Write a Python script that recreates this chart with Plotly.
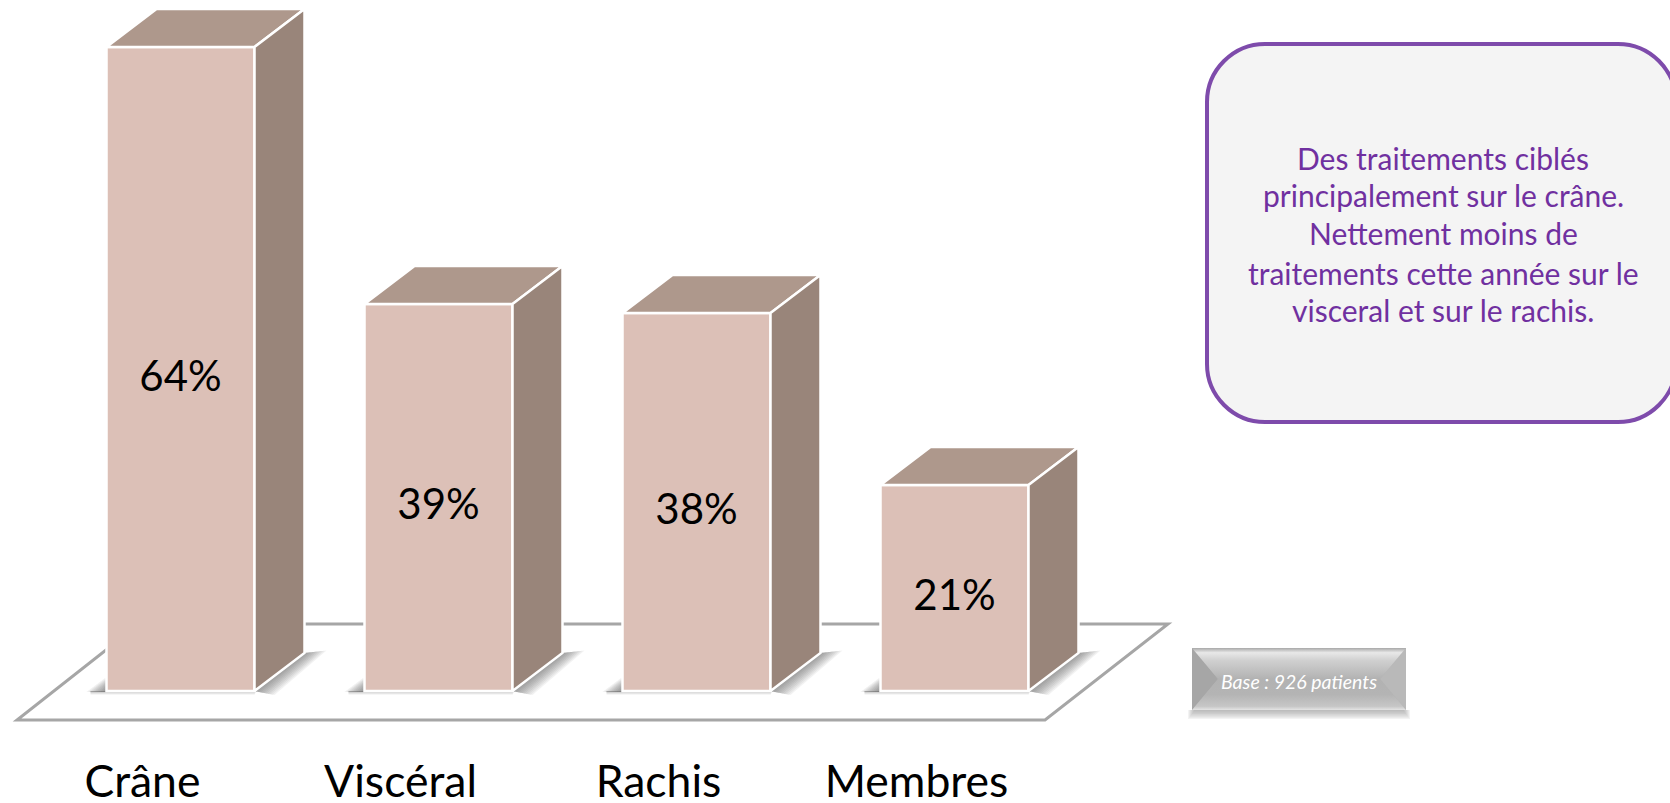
import plotly.graph_objects as go

# ---- data ----
categories = ["Crâne", "Viscéral", "Rachis", "Membres"]
values = [64.4, 38.7, 37.8, 20.6]
value_labels = ["64%", "39%", "38%", "21%"]
note_lines = [
    "Des traitements ciblés",
    "principalement sur le crâne.",
    "Nettement moins de",
    "traitements cette année sur le",
    "visceral et sur le rachis.",
]
base_label = "Base : 926 patients"

# ---- styling ----
W, H, PLOT_H = 1670, 803, 741
PX_X, PX_Y = 258.0, 10.0      # pixels per category, pixels per percentage point
ORIGIN_X, ORIGIN_Y = 180.5, 691.0
FRONT, TOP, SIDE = "#dcc0b7", "#ae988c", "#99857a"
FONT = "Lato"


def X(px):
    return (px - ORIGIN_X) / PX_X


def Y(py):
    return (ORIGIN_Y - py) / PX_Y


BAR_W = 148 / PX_X
DX, DY = 50 / PX_X, 38 / PX_Y


def poly(points):
    return "M " + " L ".join(f"{x},{y}" for x, y in points) + " Z"


def path_shape(path, fill, opacity=1.0, line=None, width=0, layer="below"):
    return dict(type="path", path=path, xref="x", yref="y", fillcolor=fill,
                opacity=opacity, layer=layer,
                line=dict(color=line or "rgba(0,0,0,0)", width=width))


shapes = []
# floor
floor = [(17, 720), (1045, 720), (1168, 624), (139, 624)]
shapes.append(path_shape(poly([(X(a), Y(b)) for a, b in floor]), "#ffffff",
                         line="#a6a6a6", width=3))

# contact shadows of the bars
STEPS = 10
for i in range(len(categories)):
    xl, xr = i - BAR_W / 2, i + BAR_W / 2
    for s in range(1, STEPS + 1):
        t = s / STEPS
        shapes.append(path_shape(poly([
            (xr, 0.0), (xr + DX, DY),
            (xr + DX + t * 22 / PX_X, DY + 0.25 * t),
            (xr + t * 20 / PX_X, -0.35 * t - 0.05),
        ]), "#555555", 0.08))
        shapes.append(path_shape(poly([
            (xl, -0.1), (xl, t * 1.4),
            (xl - t * 20 / PX_X, -0.1),
        ]), "#555555", 0.09))
    for s, o in ((1, 0.25), (2, 0.15), (3, 0.1), (4, 0.06)):
        shapes.append(path_shape(poly([
            (xl - 16 / PX_X, 0), (xr + 2 / PX_X, 0),
            (xr, -s * 0.1), (xl - 16 / PX_X, -s * 0.1),
        ]), "#666666", o))

# note box
bx0, bx1, by0, by1, r = 1207, 1676, 44, 422, 58
k = r * 0.45
note_path = (
    f"M {X(bx0 + r)},{Y(by0)} L {X(bx1 - r)},{Y(by0)} "
    f"C {X(bx1 - k)},{Y(by0)} {X(bx1)},{Y(by0 + k)} {X(bx1)},{Y(by0 + r)} "
    f"L {X(bx1)},{Y(by1 - r)} "
    f"C {X(bx1)},{Y(by1 - k)} {X(bx1 - k)},{Y(by1)} {X(bx1 - r)},{Y(by1)} "
    f"L {X(bx0 + r)},{Y(by1)} "
    f"C {X(bx0 + k)},{Y(by1)} {X(bx0)},{Y(by1 - k)} {X(bx0)},{Y(by1 - r)} "
    f"L {X(bx0)},{Y(by0 + r)} "
    f"C {X(bx0)},{Y(by0 + k)} {X(bx0 + k)},{Y(by0)} {X(bx0 + r)},{Y(by0)} Z"
)
shapes.append(path_shape(note_path, "#f4f4f4", line="#7e4bab", width=4))

# bevelled "base" box
lx, rx, ty, byy, ax, ay = 1192, 1406, 648, 710, 1218, 679
rax = rx - 26
for s in range(1, 8):
    shapes.append(path_shape(poly([
        (X(lx + 3 - s), Y(byy)), (X(rx - 3 + s), Y(byy)),
        (X(rx - 3 + s), Y(byy + 1.3 * s)), (X(lx + 3 - s), Y(byy + 1.3 * s)),
    ]), "#777777", 0.09))
shapes.append(path_shape(poly([(X(lx), Y(ty)), (X(rx), Y(ty)), (X(rx), Y(byy)), (X(lx), Y(byy))]), "#b2b2b2"))
shapes.append(path_shape(poly([(X(lx), Y(ty)), (X(ax), Y(ay)), (X(lx), Y(byy))]), "#a6a6a6"))
shapes.append(path_shape(poly([(X(rx), Y(ty)), (X(rax), Y(ay)), (X(rx), Y(byy))]), "#b9b9b9"))

fig = go.Figure()

# front faces
fig.add_trace(go.Bar(
    x=list(range(len(categories))), y=values, width=BAR_W,
    marker=dict(color=FRONT, line=dict(color="#ffffff", width=2.5)),
    hoverinfo="skip", showlegend=False,
))

# top and side faces
for i, v in enumerate(values):
    xl, xr = i - BAR_W / 2, i + BAR_W / 2
    fig.add_trace(go.Scatter(
        x=[xl, xr, xr + DX, xl + DX, xl], y=[v, v, v + DY, v + DY, v],
        mode="lines", fill="toself", fillcolor=TOP,
        line=dict(color="#ffffff", width=2.5), hoverinfo="skip", showlegend=False))
    fig.add_trace(go.Scatter(
        x=[xr, xr + DX, xr + DX, xr, xr], y=[0, DY, v + DY, v, 0],
        mode="lines", fill="toself", fillcolor=SIDE,
        line=dict(color="#ffffff", width=2.5), hoverinfo="skip", showlegend=False))

# value labels
fig.add_trace(go.Scatter(
    x=list(range(len(categories))), y=[v / 2 - 1.1 for v in values],
    mode="text", text=value_labels, textposition="middle center",
    textfont=dict(family=FONT, size=42, color="#000000"),
    hoverinfo="skip", showlegend=False,
))

# bevel gradients of the base box
fig.add_trace(go.Scatter(
    x=[X(lx), X(rx), X(rax), X(ax), X(lx)], y=[Y(ty), Y(ty), Y(ay), Y(ay), Y(ty)],
    mode="lines", fill="toself", line=dict(width=0), hoverinfo="skip", showlegend=False,
    fillgradient=dict(type="vertical", colorscale=[[0, "#b2b2b2"], [0.6, "#d0d0d0"], [0.85, "#e8e8e8"], [1, "#a8a8a8"]])))
fig.add_trace(go.Scatter(
    x=[X(lx), X(rx), X(rax), X(ax), X(lx)], y=[Y(byy), Y(byy), Y(ay), Y(ay), Y(byy)],
    mode="lines", fill="toself", line=dict(width=0), hoverinfo="skip", showlegend=False,
    fillgradient=dict(type="vertical", colorscale=[[0, "#e4e4e4"], [0.12, "#c6c6c6"], [0.5, "#b4b4b4"], [1, "#b2b2b2"]])))

annotations = []
NOTE_Y = [157.5, 194.5, 232.5, 272.5, 309.5]
for line, py in zip(note_lines, NOTE_Y):
    annotations.append(dict(x=X(1443), y=Y(py), xref="x", yref="y", text=line,
                            showarrow=False, xanchor="center", yanchor="middle",
                            font=dict(family=FONT, size=30, color="#7030a0")))
annotations.append(dict(x=X(1299), y=Y(681), xref="x", yref="y", text=f"<i>{base_label}</i>",
                        showarrow=False, xanchor="center", yanchor="middle",
                        font=dict(family=FONT, size=19.5, color="#ffffff")))

fig.update_layout(
    width=W, height=H, autosize=False,
    margin=dict(l=0, r=0, t=0, b=H - PLOT_H, pad=0),
    paper_bgcolor="#ffffff", plot_bgcolor="#ffffff",
    shapes=shapes, annotations=annotations, showlegend=False, barmode="overlay",
    xaxis=dict(range=[X(0), X(W)], showgrid=False, zeroline=False, showline=False,
               automargin=False,
               tickmode="array", tickvals=[i - 38 / PX_X for i in range(len(categories))],
               ticktext=categories, ticks="outside", ticklen=2, tickcolor="rgba(0,0,0,0)",
               tickfont=dict(family=FONT, size=44.5, color="#000000")),
    yaxis=dict(range=[Y(PLOT_H), Y(0)], visible=False, automargin=False),
)

fig.write_html("out.html", config=dict(displayModeBar=False),
               post_script="document.body.style.margin='0';document.body.style.overflow='hidden';")
